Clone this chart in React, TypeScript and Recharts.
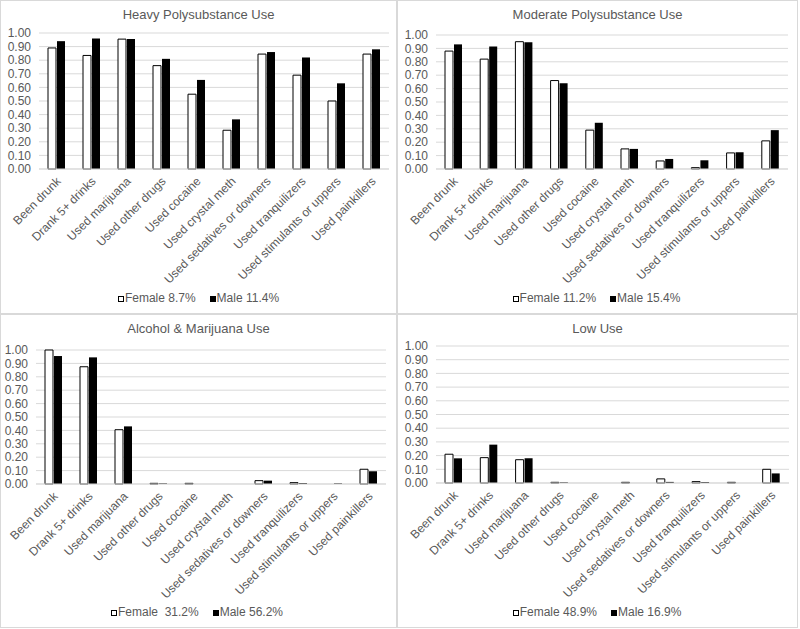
import React from 'react';
import { BarChart, Bar, XAxis, YAxis, CartesianGrid, Legend } from 'recharts';

const categories = [
  'Been drunk',
  'Drank 5+ drinks',
  'Used marijuana',
  'Used other drugs',
  'Used cocaine',
  'Used crystal meth',
  'Used sedatives or downers',
  'Used tranquilizers',
  'Used stimulants or uppers',
  'Used painkillers',
];

const yTicks = [0, 0.1, 0.2, 0.3, 0.4, 0.5, 0.6, 0.7, 0.8, 0.9, 1.0];

const heavyFemale = [0.89, 0.835, 0.955, 0.76, 0.55, 0.285, 0.845, 0.69, 0.5, 0.845];
const heavyMale = [0.94, 0.96, 0.955, 0.81, 0.655, 0.365, 0.86, 0.82, 0.63, 0.88];
const moderateFemale = [0.88, 0.82, 0.95, 0.66, 0.29, 0.15, 0.06, 0.01, 0.12, 0.21];
const moderateMale = [0.93, 0.915, 0.945, 0.64, 0.345, 0.15, 0.075, 0.065, 0.125, 0.29];
const alcMarFemale = [1.0, 0.875, 0.405, 0.005, 0.005, 0, 0.025, 0.01, 0, 0.11];
const alcMarMale = [0.955, 0.945, 0.43, 0.005, 0, 0, 0.025, 0.007, 0.005, 0.095];
const lowFemale = [0.21, 0.185, 0.17, 0.005, 0, 0.005, 0.03, 0.01, 0.005, 0.1];
const lowMale = [0.18, 0.28, 0.18, 0.005, 0, 0, 0.008, 0.007, 0, 0.07];

const titles = ['Heavy Polysubstance Use', 'Moderate Polysubstance Use', 'Alcohol & Marijuana Use', 'Low Use'];
const femaleLabels = ['Female 8.7%', 'Female 11.2%', 'Female  31.2%', 'Female 48.9%'];
const maleLabels = ['Male 11.4%', 'Male 15.4%', 'Male 56.2%', 'Male 16.9%'];

const FONT = '"Liberation Sans", Arial, sans-serif';
const GRAY = '#595959';

const build = (f: number[], m: number[]) =>
  categories.map((c, i) => ({ category: c, female: f[i], male: m[i] }));

const CatTick = (props: any) => {
  const { x, y, payload } = props;
  const ty = y + 5;
  const tx = x + 5;
  return (
    <text
      x={tx}
      y={ty}
      transform={`rotate(-45 ${tx} ${ty})`}
      textAnchor="end"
      fontSize={12}
      fontFamily={FONT}
      fill={GRAY}
    >
      {payload.value}
    </text>
  );
};

const LegendContent = (props: any) => {
  const { payload } = props;
  return (
    <div
      style={{
        display: 'flex',
        justifyContent: 'center',
        alignItems: 'center',
        fontFamily: FONT,
        fontSize: 12,
        color: GRAY,
        height: 20,
        paddingLeft: 8,
      }}
    >
      {(payload || []).map((p: any, i: number) => (
        <span key={i} style={{ display: 'flex', alignItems: 'center', marginRight: i === 0 ? 14 : 0 }}>
          <span
            style={{
              display: 'inline-block',
              width: 4,
              height: 4,
              border: '1px solid #000',
              background: p.color,
              marginRight: 1,
              marginTop: 1,
            }}
          />
          <span style={{ whiteSpace: 'pre' }}>{p.value}</span>
        </span>
      ))}
    </div>
  );
};

type PanelProps = {
  left: number;
  top: number;
  width: number;
  height: number;
  title: string;
  data: any[];
  femaleName: string;
  maleName: string;
  plotTop: number;
  plotBottom: number;
  plotLeft: number;
  plotRight: number;
};

const Panel = (p: PanelProps) => {
  const legendH = 20;
  const bottomMargin = 6;
  const xAxisH = p.height - p.plotBottom - legendH - bottomMargin;
  return (
    <div
      style={{
        position: 'absolute',
        left: p.left,
        top: p.top,
        width: p.width,
        height: p.height,
        boxSizing: 'border-box',
        border: '1px solid #d9d9d9',
        background: '#fff',
      }}
    >
      <div
        style={{
          position: 'absolute',
          left: 0,
          top: 6,
          width: '100%',
          textAlign: 'center',
          fontFamily: FONT,
          fontSize: 13,
          color: GRAY,
        }}
      >
        {p.title}
      </div>
      <div style={{ position: 'absolute', left: -1, top: -1 }}>
        <BarChart
          width={p.width}
          height={p.height}
          data={p.data}
          margin={{ top: p.plotTop, right: p.width - p.plotRight, left: 0, bottom: bottomMargin }}
          barGap={1}
          barSize={8}
        >
          <CartesianGrid vertical={false} stroke="#d9d9d9" />
          <XAxis
            dataKey="category"
            interval={0}
            tickLine={false}
            axisLine={{ stroke: '#d9d9d9' }}
            height={xAxisH}
            tick={<CatTick />}
          />
          <YAxis
            width={p.plotLeft}
            domain={[0, 1]}
            ticks={yTicks}
            interval={0}
            tickFormatter={(v: number) => v.toFixed(2)}
            axisLine={false}
            tickLine={false}
            tickMargin={2}
            tick={{ fontSize: 12, fill: GRAY, fontFamily: FONT }}
          />
          <Legend
            verticalAlign="bottom"
            height={legendH}
            content={<LegendContent />}
          />
          <Bar dataKey="female" name={p.femaleName} fill="#ffffff" stroke="#000000" strokeWidth={1} isAnimationActive={false} />
          <Bar dataKey="male" name={p.maleName} fill="#000000" isAnimationActive={false} />
        </BarChart>
      </div>
    </div>
  );
};

export default function App() {
  const panels = [
    { left: 0, top: 0, width: 397, height: 314, data: build(heavyFemale, heavyMale), plotTop: 33, plotBottom: 169, plotLeft: 39, plotRight: 389 },
    { left: 397, top: 0, width: 401, height: 314, data: build(moderateFemale, moderateMale), plotTop: 35, plotBottom: 169, plotLeft: 39, plotRight: 391 },
    { left: 0, top: 314, width: 397, height: 314, data: build(alcMarFemale, alcMarMale), plotTop: 36, plotBottom: 170, plotLeft: 36, plotRight: 386 },
    { left: 397, top: 314, width: 401, height: 314, data: build(lowFemale, lowMale), plotTop: 32, plotBottom: 169, plotLeft: 39, plotRight: 392 },
  ];
  return (
    <div style={{ position: 'absolute', left: 0, top: 0, width: 800, height: 629, background: '#fff', overflow: 'hidden' }}>
      {panels.map((pp, i) => (
        <Panel
          key={i}
          {...pp}
          title={titles[i]}
          femaleName={femaleLabels[i]}
          maleName={maleLabels[i]}
        />
      ))}
    </div>
  );
}
